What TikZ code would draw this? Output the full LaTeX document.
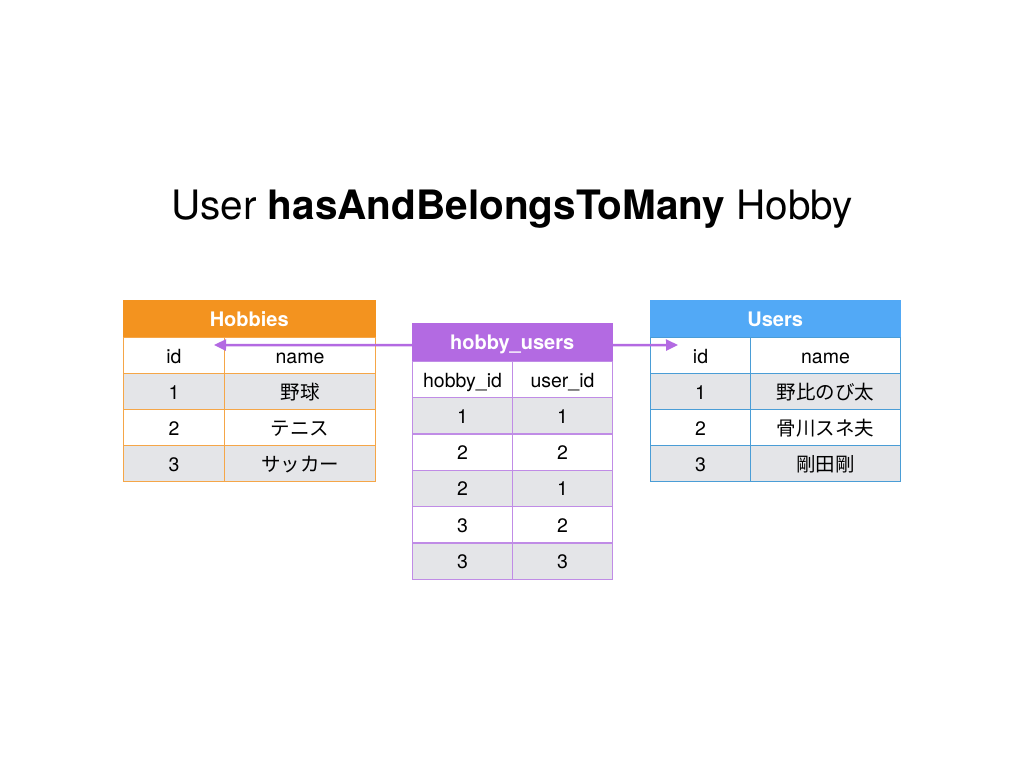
\documentclass[tikz,border=0pt]{standalone}
\usepackage{fontspec}
\setmainfont{TeX Gyre Heros}
\newfontfamily\cjk{Noto Sans CJK JP}
\usetikzlibrary{arrows.meta}

\definecolor{hobbyorange}{HTML}{F3931F}
\definecolor{hobbyline}{HTML}{F5A648}
\definecolor{userblue}{HTML}{52A9F6}
\definecolor{userline}{HTML}{4A9DD6}
\definecolor{joinpurple}{HTML}{B36AE2}
\definecolor{joinline}{HTML}{C08CE6}
\definecolor{rowgray}{HTML}{E4E5E8}

\tikzset{
  head/.style={fill=#1, draw=#1, text=white, inner sep=0pt, anchor=north west,
    text height=17pt, text depth=2pt,
    font=\bfseries\fontsize{20}{20}\selectfont},
  cell/.style={draw=#1, line width=1pt, inner sep=0pt, minimum height=36pt,
    text height=17pt, text depth=2pt,
    anchor=north west, font=\fontsize{19.5}{19.5}\selectfont},
  link/.style={draw=joinpurple, line width=2.5pt,
    -{Triangle[length=12pt,width=11pt]}}
}

\begin{document}
\begin{tikzpicture}[x=1pt,y=-1pt]
\useasboundingbox[fill=white] (0,0) rectangle (1024,768);

% title
\node[anchor=base, font=\fontsize{40.5}{40.5}\selectfont] (title) at (512,219)
  {User \textbf{hasAndBelongsToMany} Hobby};

% Hobbies
\node[head=hobbyorange, minimum width=252pt, minimum height=37pt] (hob) at (123,300) {Hobbies};
\foreach \id/\name [count=\r] in {id/name,1/{\cjk 野球},2/{\cjk テニス},3/{\cjk サッカー}} {
  \ifodd\r\def\rowfill{white}\else\def\rowfill{rowgray}\fi
  \node[cell=hobbyline, fill=\rowfill, minimum width=101pt] (hob-id-\r) at (123,{337+36*(\r-1)}) {\id};
  \node[cell=hobbyline, fill=\rowfill, minimum width=151pt] (hob-name-\r) at (224,{337+36*(\r-1)}) {\name};
}

% Users
\node[head=userblue, minimum width=250pt, minimum height=37pt] (usr) at (650,300) {Users};
\foreach \id/\name [count=\r] in {id/name,1/{\cjk 野比のび太},2/{\cjk 骨川スネ夫},3/{\cjk 剛田剛}} {
  \ifodd\r\def\rowfill{white}\else\def\rowfill{rowgray}\fi
  \node[cell=userline, fill=\rowfill, minimum width=100pt] (usr-id-\r) at (650,{337+36*(\r-1)}) {\id};
  \node[cell=userline, fill=\rowfill, minimum width=150pt] (usr-name-\r) at (750,{337+36*(\r-1)}) {\name};
}

% hobby_users
\node[head=joinpurple, minimum width=200pt, minimum height=38pt] (hu) at (412,323) {hobby\_users};
\foreach \hid/\uid [count=\r] in {hobby\_id/user\_id,1/1,2/2,2/1,3/2,3/3} {
  \ifodd\r\def\rowfill{white}\else\def\rowfill{rowgray}\fi
  \node[cell=joinline, fill=\rowfill, minimum width=100pt] (hu-hid-\r) at (412,{361+36.3*(\r-1)}) {\hid};
  \node[cell=joinline, fill=\rowfill, minimum width=100pt] (hu-uid-\r) at (512,{361+36.3*(\r-1)}) {\uid};
}

% links
\coordinate (hobtip) at (214,345);
\coordinate (usrtip) at (678,345);
\draw[link] ([yshift=-3pt]hu.west) -- (hobtip);
\draw[link] ([yshift=-3pt]hu.east) -- (usrtip);
\end{tikzpicture}
\end{document}
